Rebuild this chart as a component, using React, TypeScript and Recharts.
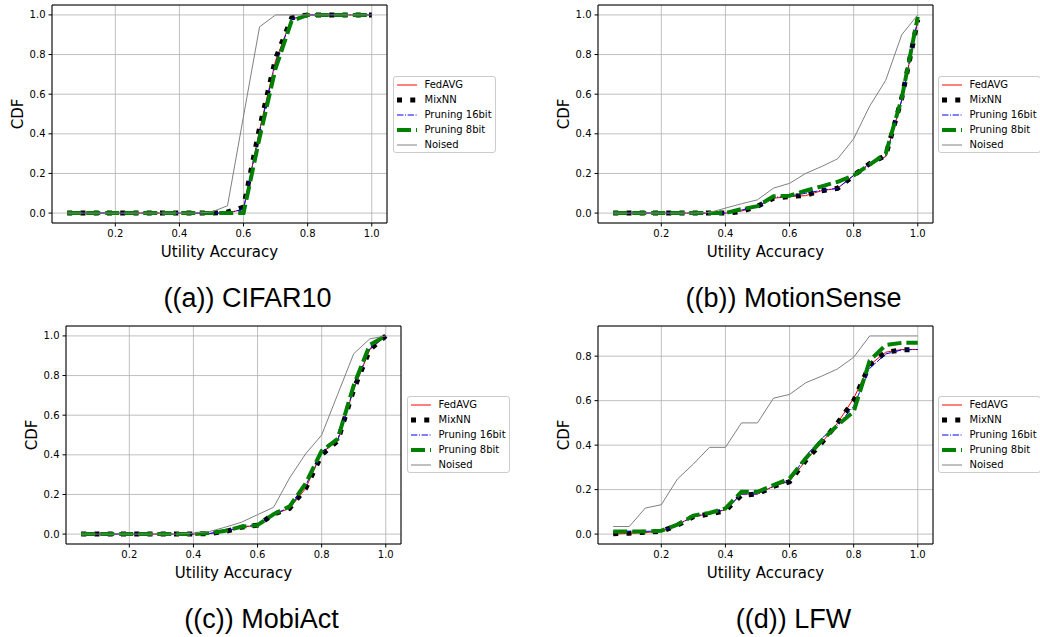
import React from 'react';
import { LineChart, Line, XAxis, YAxis, CartesianGrid, ReferenceArea, Legend } from 'recharts';

// utility accuracy sample points (x axis)
const accuracy = [0.05, 0.1, 0.15, 0.2, 0.25, 0.3, 0.35, 0.4, 0.45, 0.5, 0.55, 0.6, 0.65, 0.7, 0.75, 0.8, 0.85, 0.9, 0.95, 1.0];

// (a) CIFAR10
const cifarFedAvg = [0, 0, 0, 0, 0, 0, 0, 0, 0, 0, 0.0, 0.02, 0.42, 0.77, 0.98, 1, 1, 1, 1, 1];
const cifarMixNN = [0, 0, 0, 0, 0, 0, 0, 0, 0, 0, 0.005, 0.03, 0.43, 0.78, 0.985, 1, 1, 1, 1, 1];
const cifarPrun16 = [0, 0, 0, 0, 0, 0, 0, 0, 0, 0, 0.0, 0.02, 0.41, 0.76, 0.98, 1, 1, 1, 1, 1];
const cifarPrun8 = [0, 0, 0, 0, 0, 0, 0, 0, 0, 0, 0.0, 0.0, 0.38, 0.73, 0.97, 1, 1, 1, 1, 1];
const cifarNoised = [0, 0, 0, 0, 0, 0, 0, 0, 0, 0.005, 0.037, 0.49, 0.94, 1, 1, 1, 1, 1, 1, 1];

// (b) MotionSense
const motionFedAvg = [0, 0, 0, 0, 0, 0, 0, 0, 0.01, 0.035, 0.075, 0.083, 0.088, 0.113, 0.125, 0.19, 0.25, 0.285, 0.57, 0.97];
const motionMixNN = [0, 0, 0, 0, 0, 0, 0, 0, 0.008, 0.035, 0.075, 0.083, 0.09, 0.113, 0.125, 0.19, 0.25, 0.29, 0.58, 0.975];
const motionPrun16 = [0, 0, 0, 0, 0, 0, 0, 0, 0.015, 0.035, 0.08, 0.085, 0.1, 0.115, 0.125, 0.19, 0.245, 0.285, 0.57, 0.98];
const motionPrun8 = [0, 0, 0, 0, 0, 0, 0, 0, 0.02, 0.035, 0.085, 0.088, 0.113, 0.135, 0.158, 0.19, 0.245, 0.3, 0.58, 0.99];
const motionNoised = [0, 0, 0, 0, 0, 0, 0.003, 0.025, 0.047, 0.067, 0.126, 0.15, 0.2, 0.235, 0.274, 0.375, 0.54, 0.67, 0.9, 1.0];

// (c) MobiAct
const mobiFedAvg = [0, 0, 0, 0, 0, 0, 0, 0, 0.003, 0.013, 0.035, 0.044, 0.098, 0.13, 0.23, 0.41, 0.47, 0.73, 0.93, 1.0];
const mobiMixNN = [0, 0, 0, 0, 0, 0, 0, 0, 0.003, 0.013, 0.035, 0.045, 0.1, 0.13, 0.23, 0.4, 0.47, 0.73, 0.93, 1.0];
const mobiPrun16 = [0, 0, 0, 0, 0, 0, 0, 0, 0.003, 0.015, 0.037, 0.045, 0.1, 0.135, 0.245, 0.41, 0.475, 0.735, 0.935, 1.0];
const mobiPrun8 = [0, 0, 0, 0, 0, 0, 0, 0, 0.005, 0.017, 0.037, 0.045, 0.1, 0.14, 0.255, 0.42, 0.48, 0.75, 0.955, 1.0];
const mobiNoised = [0, 0, 0, 0, 0, 0, 0, 0.005, 0.013, 0.035, 0.06, 0.098, 0.135, 0.283, 0.405, 0.5, 0.705, 0.91, 0.985, 1.0];

// (d) LFW
const lfwFedAvg = [0.0, 0.003, 0.007, 0.012, 0.042, 0.08, 0.09, 0.11, 0.18, 0.18, 0.215, 0.237, 0.33, 0.41, 0.5, 0.61, 0.76, 0.818, 0.83, 0.83];
const lfwMixNN = [0.002, 0.004, 0.008, 0.012, 0.04, 0.078, 0.09, 0.105, 0.175, 0.18, 0.215, 0.235, 0.33, 0.41, 0.5, 0.6, 0.76, 0.818, 0.828, 0.83];
const lfwPrun16 = [0.012, 0.012, 0.012, 0.015, 0.04, 0.08, 0.092, 0.11, 0.18, 0.18, 0.215, 0.24, 0.35, 0.43, 0.49, 0.575, 0.745, 0.81, 0.828, 0.83];
const lfwPrun8 = [0.012, 0.012, 0.012, 0.015, 0.042, 0.083, 0.095, 0.115, 0.19, 0.19, 0.22, 0.25, 0.34, 0.42, 0.49, 0.55, 0.78, 0.85, 0.86, 0.86];
const lfwNoised = [0.034, 0.034, 0.117, 0.132, 0.247, 0.315, 0.39, 0.39, 0.5, 0.5, 0.611, 0.628, 0.68, 0.71, 0.743, 0.795, 0.891, 0.891, 0.891, 0.891];

const xTicks = [0.2, 0.4, 0.6, 0.8, 1.0];
const cdfTicks = [0, 0.2, 0.4, 0.6, 0.8, 1.0];
const lfwTicks = [0, 0.2, 0.4, 0.6, 0.8];

const series = [
  { key: 'fedavg', name: 'FedAVG', color: '#ff0000', width: 1, dash: undefined },
  { key: 'mixnn', name: 'MixNN', color: '#000000', width: 5, dash: '5 8.25' },
  { key: 'prun16', name: 'Pruning 16bit', color: '#0000ff', width: 1, dash: '6.4 1.6 1 1.6' },
  { key: 'prun8', name: 'Pruning 8bit', color: '#008000', width: 4, dash: '14 5' },
  { key: 'noised', name: 'Noised', color: '#808080', width: 1, dash: undefined },
];

const buildRows = (fedavg, mixnn, prun16, prun8, noised) =>
  accuracy.map((x, i) => ({
    x,
    fedavg: fedavg[i],
    mixnn: mixnn[i],
    prun16: prun16[i],
    prun8: prun8[i],
    noised: noised[i],
  }));

const X_DOMAIN = [0.0025, 1.0475];
const PLOT_W = 335;
const PLOT_H = 218;
const PAD_L = 50;
const PAD_T = 5;
const CHART_W = 500;
const CHART_H = 320;
const Y_AXIS_W = 40;
const X_AXIS_H = 30;

const tickStyle = { fontSize: 10, fill: '#000', fontFamily: 'DejaVu Sans' };
const fmt = (v) => v.toFixed(1);

const LegendBox = () => (
  <div
    style={{
      width: 103,
      height: 77,
      boxSizing: 'border-box',
      border: '1px solid #cccccc',
      borderRadius: 3,
      background: 'rgba(255,255,255,0.8)',
      fontFamily: 'DejaVu Sans',
      fontSize: 10,
      color: '#000',
    }}
  >
    {series.map((s) => (
      <div key={s.key} style={{ height: 15, display: 'flex', alignItems: 'center', paddingLeft: 3 }}>
        <svg width={20} height={10} style={{ marginRight: 7.5, flexShrink: 0 }}>
          <line x1={0} y1={5} x2={20} y2={5} stroke={s.color} strokeWidth={s.width} strokeDasharray={s.dash} />
        </svg>
        <span style={{ whiteSpace: 'nowrap' }}>{s.name}</span>
      </div>
    ))}
  </div>
);

const Panel = ({ plotX, plotY, title, rows, yDomain, yTicks, legendX, legendY }) => {
  const left = plotX - PAD_L;
  const top = plotY - PAD_T;
  const cx = PAD_L + PLOT_W / 2;
  return (
    <div style={{ position: 'absolute', left, top, width: CHART_W, height: CHART_H }}>
      <LineChart
        width={CHART_W}
        height={CHART_H}
        data={rows}
        margin={{
          top: PAD_T,
          left: PAD_L - Y_AXIS_W,
          right: CHART_W - PAD_L - PLOT_W,
          bottom: CHART_H - PAD_T - PLOT_H - X_AXIS_H,
        }}
      >
        <CartesianGrid stroke="#b0b0b0" strokeWidth={0.8} />
        <XAxis
          type="number"
          dataKey="x"
          domain={X_DOMAIN}
          allowDataOverflow
          ticks={xTicks}
          tickFormatter={fmt}
          tick={tickStyle}
          tickSize={3.5}
          tickMargin={3}
          tickLine={{ stroke: '#000' }}
          axisLine={false}
          height={X_AXIS_H}
        />
        <YAxis
          type="number"
          domain={yDomain}
          allowDataOverflow
          ticks={yTicks}
          tickFormatter={fmt}
          tick={tickStyle}
          tickSize={3.5}
          tickMargin={3}
          tickLine={{ stroke: '#000' }}
          axisLine={false}
          width={Y_AXIS_W}
        />
        {series.map((s) => (
          <Line
            key={s.key}
            type="linear"
            dataKey={s.key}
            name={s.name}
            stroke={s.color}
            strokeWidth={s.width}
            strokeDasharray={s.dash}
            dot={false}
            activeDot={false}
            isAnimationActive={false}
          />
        ))}
        <ReferenceArea
          x1={X_DOMAIN[0]}
          x2={X_DOMAIN[1]}
          y1={yDomain[0]}
          y2={yDomain[1]}
          fill="none"
          stroke="#000"
          strokeWidth={1}
          ifOverflow="visible"
        />
        <Legend
          layout="vertical"
          align="center"
          verticalAlign="middle"
          content={() => <LegendBox />}
          wrapperStyle={{ left: legendX - left, top: legendY - top, width: 103, height: 77 }}
        />
      </LineChart>
      <svg
        width={CHART_W}
        height={CHART_H}
        style={{ position: 'absolute', left: 0, top: 0, pointerEvents: 'none', overflow: 'visible' }}
      >
        <text x={cx} y={PAD_T + PLOT_H + 34} textAnchor="middle" fontFamily="DejaVu Sans" fontSize={15} fill="#000">
          Utility Accuracy
        </text>
        <text
          transform={`translate(${PAD_L - 29.5}, ${PAD_T + PLOT_H / 2}) rotate(-90)`}
          textAnchor="middle"
          fontFamily="DejaVu Sans"
          fontSize={15}
          fill="#000"
        >
          CDF
        </text>
        <text x={cx + 28} y={PAD_T + 302} textAnchor="middle" fontFamily="Liberation Sans" fontSize={27} fill="#000">
          {title}
        </text>
      </svg>
    </div>
  );
};

const App = () => (
  <div style={{ position: 'absolute', left: 0, top: 0, width: 1040, height: 637, overflow: 'hidden', background: '#fff' }}>
    <Panel
      plotX={52}
      plotY={5}
      title="((a)) CIFAR10"
      rows={buildRows(cifarFedAvg, cifarMixNN, cifarPrun16, cifarPrun8, cifarNoised)}
      yDomain={[-0.05, 1.05]}
      yTicks={cdfTicks}
      legendX={393}
      legendY={76}
    />
    <Panel
      plotX={598}
      plotY={5}
      title="((b)) MotionSense"
      rows={buildRows(motionFedAvg, motionMixNN, motionPrun16, motionPrun8, motionNoised)}
      yDomain={[-0.05, 1.05]}
      yTicks={cdfTicks}
      legendX={938}
      legendY={76}
    />
    <Panel
      plotX={66}
      plotY={326}
      title="((c)) MobiAct"
      rows={buildRows(mobiFedAvg, mobiMixNN, mobiPrun16, mobiPrun8, mobiNoised)}
      yDomain={[-0.05, 1.05]}
      yTicks={cdfTicks}
      legendX={407}
      legendY={396}
    />
    <Panel
      plotX={598}
      plotY={326}
      title="((d)) LFW"
      rows={buildRows(lfwFedAvg, lfwMixNN, lfwPrun16, lfwPrun8, lfwNoised)}
      yDomain={[-0.0446, 0.9357]}
      yTicks={lfwTicks}
      legendX={938}
      legendY={396}
    />
  </div>
);

export default App;
